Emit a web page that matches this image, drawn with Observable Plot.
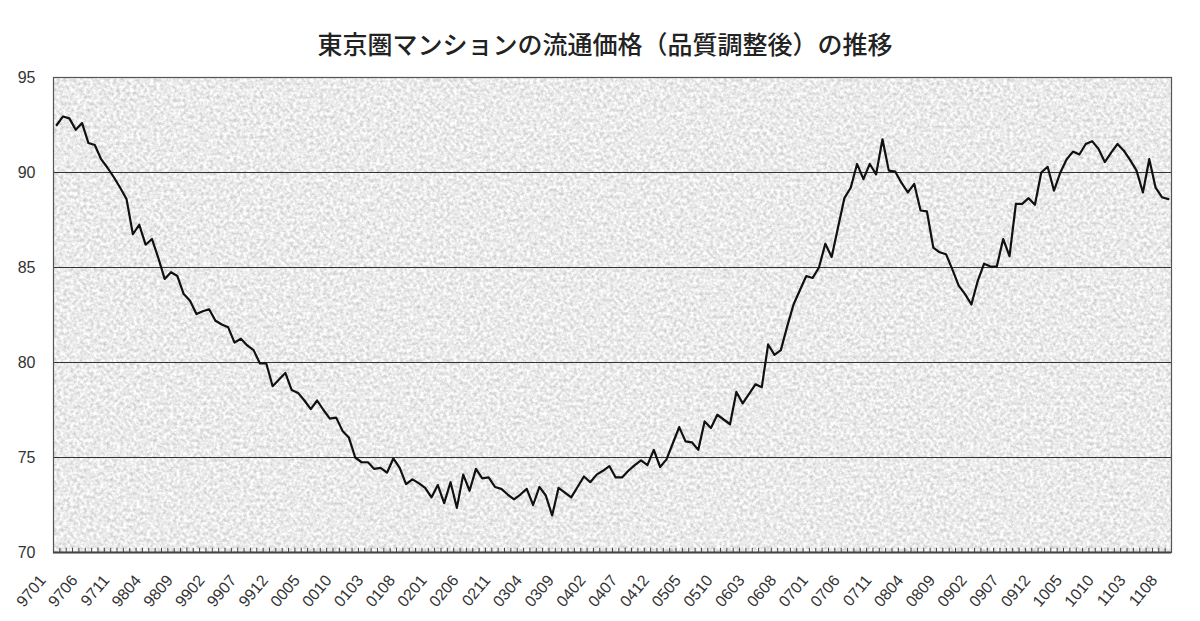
<!DOCTYPE html>
<html>
<head>
<meta charset="utf-8">
<script src="https://cdn.jsdelivr.net/npm/d3@7"></script>
<script src="https://cdn.jsdelivr.net/npm/@observablehq/plot@0.6"></script>
<style>
html, body { margin: 0; padding: 0; background: #fff; }
#title { height: 62px; box-sizing: border-box; padding-top: 28px; padding-left: 10px; text-align: center;
  font-family: "Noto Sans CJK JP", "Noto Sans", sans-serif; font-size: 25px; font-weight: 500; line-height: 30px; color: #222; }
#chart svg { display: block; }
</style>
</head>
<body>
<div id="title">東京圏マンションの流通価格（品質調整後）の推移</div>
<div id="chart"></div>
<script>
// First month of the series (1997-01), monthly until 2011-08
const startYear = 1997;
const startMonth = 1;

// Tokyo-area condominium resale price index (quality adjusted), monthly
const values = [
  92.5, 92.95, 92.85, 92.25, 92.6, 91.55, 91.45, 90.7, 90.25, 89.75,
  89.2, 88.6, 86.75, 87.25, 86.2, 86.5, 85.5, 84.4, 84.75, 84.55,
  83.6, 83.25, 82.55, 82.7, 82.8, 82.2, 82.0, 81.85, 81.05, 81.25,
  80.9, 80.65, 79.95, 79.95, 78.75, 79.1, 79.45, 78.55, 78.4, 78.0,
  77.55, 78.0, 77.5, 77.05, 77.1, 76.4, 76.05, 75.0, 74.75, 74.75,
  74.4, 74.45, 74.2, 74.95, 74.45, 73.6, 73.85, 73.65, 73.4, 72.9,
  73.55, 72.6, 73.7, 72.35, 74.1, 73.25, 74.4, 73.9, 73.95, 73.45,
  73.35, 73.05, 72.8, 73.05, 73.35, 72.5, 73.45, 73.0, 71.95, 73.4,
  73.15, 72.9, 73.45, 74.0, 73.7, 74.1, 74.3, 74.55, 73.95, 73.95,
  74.3, 74.6, 74.85, 74.6, 75.4, 74.5, 74.9, 75.75, 76.6, 75.85,
  75.8, 75.4, 76.9, 76.55, 77.25, 77.0, 76.75, 78.45, 77.85, 78.35,
  78.85, 78.7, 80.95, 80.4, 80.65, 81.9, 83.05, 83.8, 84.55, 84.45,
  85.0, 86.25, 85.55, 87.1, 88.65, 89.2, 90.45, 89.65, 90.45, 89.9,
  91.75, 90.1, 90.05, 89.45, 88.95, 89.4, 88.0, 87.95, 86.05, 85.8,
  85.7, 84.9, 84.05, 83.6, 83.05, 84.3, 85.2, 85.05, 85.05, 86.5,
  85.6, 88.35, 88.35, 88.65, 88.3, 90.0, 90.3, 89.05, 90.0, 90.7,
  91.1, 90.95, 91.5, 91.65, 91.25, 90.55, 91.05, 91.5, 91.15, 90.65,
  90.1, 88.95, 90.7, 89.2, 88.7, 88.6
];

// category labels (YYMM)
const months = values.map((_, i) => {
  const m = startMonth - 1 + i;
  const yy = (startYear + Math.floor(m / 12)) % 100;
  const mm = (m % 12) + 1;
  return String(yy).padStart(2, "0") + String(mm).padStart(2, "0");
});

const tickLabels = [
  "9701", "9706", "9711", "9804", "9809", "9902", "9907", "9912", "0005", "0010",
  "0103", "0108", "0201", "0206", "0211", "0304", "0309", "0402", "0407", "0412",
  "0505", "0510", "0603", "0608", "0701", "0706", "0711", "0804", "0809", "0902",
  "0907", "0912", "1005", "1010", "1103", "1108"
];
const yTicks = [70, 75, 80, 85, 90, 95];
const gridValues = [75, 80, 85, 90];

const tickIdx = tickLabels.map(l => months.indexOf(l));
const bounds = d3.range(months.length + 1).map(i => i - 0.5);

const plot = Plot.plot({
  width: 1200,
  height: 559,
  marginTop: 15,
  marginBottom: 69,
  marginLeft: 53,
  marginRight: 29,
  style: { fontFamily: '"Liberation Sans", Arial, sans-serif', background: "#fff", color: "#333" },
  x: { type: "linear", domain: [-0.5, months.length - 0.5] },
  y: { domain: [70, 95] },
  marks: [
    Plot.frame({ fill: "#e6e6e6", stroke: "none" }),
    Plot.ruleY(gridValues, { stroke: "#333", strokeWidth: 1.2 }),
    Plot.ruleX(bounds, { x: d => d, y1: 70, y2: 70.22, stroke: "#444", strokeWidth: 1 }),
    Plot.frame({ stroke: "#555", strokeWidth: 1.2 }),
    Plot.ruleY([70], { stroke: "#444", strokeWidth: 2 }),
    Plot.line(values, { x: (d, i) => i, y: d => d, stroke: "#111", strokeWidth: 2.2 }),
    Plot.axisY(yTicks, { tickSize: 0, tickPadding: 18, fontSize: 16, color: "#333", label: null }),
    Plot.axisX(tickIdx, { tickSize: 0, tickPadding: 25, tickRotate: -50, tickFormat: i => months[i],
      fontSize: 16, dx: -14, color: "#333", label: null })
  ]
});

const svg = plot.tagName.toLowerCase() === "svg" ? plot : plot.querySelector("svg");
const ns = "http://www.w3.org/2000/svg";
const defs = document.createElementNS(ns, "defs");
defs.innerHTML = '<filter id="grain" x="0" y="0" width="1" height="1" filterUnits="objectBoundingBox" color-interpolation-filters="sRGB">' +
  '<feTurbulence type="fractalNoise" baseFrequency="0.3" numOctaves="3" seed="7"/>' +
  '<feColorMatrix type="matrix" values="0.36 0 0 0 0.74  0.36 0 0 0 0.74  0.36 0 0 0 0.74  0 0 0 0 1"/>' +
  '</filter>';
svg.insertBefore(defs, svg.firstChild);
const bg = svg.querySelector('[aria-label="frame"]');
if (bg) bg.setAttribute("filter", "url(#grain)");

document.getElementById("chart").appendChild(plot);
</script>
</body>
</html>
